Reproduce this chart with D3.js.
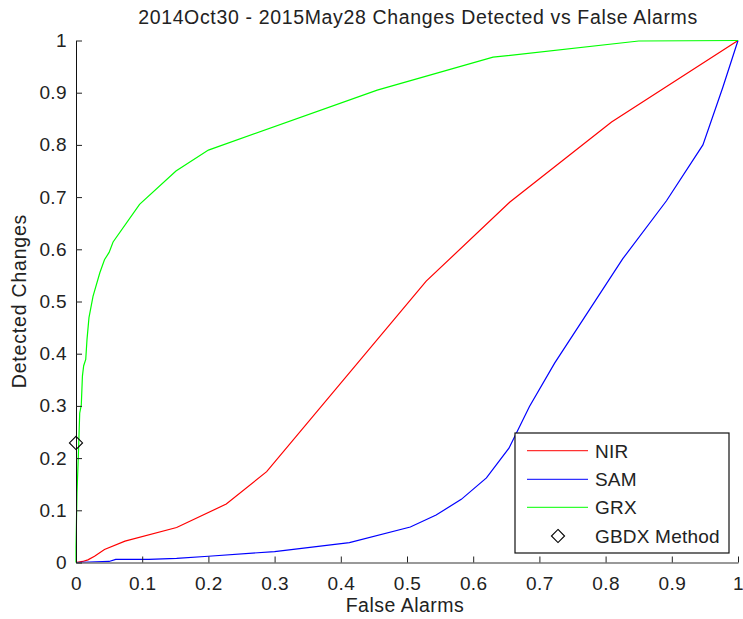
<!DOCTYPE html>
<html><head><meta charset="utf-8">
<script src="https://cdn.jsdelivr.net/npm/d3@7"></script>
<style>body{margin:0;background:#fff}svg{display:block;font-family:Arial,"Liberation Sans",Helvetica,sans-serif}</style>
</head><body><svg id="c" width="743" height="619"></svg>
<script>
const title = "2014Oct30 - 2015May28 Changes Detected vs False Alarms";
const xLabel = "False Alarms";
const yLabel = "Detected Changes";
const tickValues = [0,0.1,0.2,0.3,0.4,0.5,0.6,0.7,0.8,0.9,1];
const tickLabels = ["0","0.1","0.2","0.3","0.4","0.5","0.6","0.7","0.8","0.9","1"];
const seriesNames = ["NIR","SAM","GRX"];
const seriesColors = ["#ff0000","#0000ff","#00ff00"];
const nirData = [[0,0],[0.01,0.002],[0.018,0.005],[0.028,0.012],[0.043,0.025],[0.074,0.041],[0.152,0.067],[0.227,0.112],[0.288,0.174],[0.529,0.539],[0.655,0.69],[0.809,0.844],[1,1]];
const samData = [[0,0],[0.05,0.002],[0.06,0.006],[0.11,0.006],[0.152,0.008],[0.2,0.012],[0.3,0.021],[0.413,0.038],[0.505,0.068],[0.544,0.091],[0.582,0.121],[0.62,0.162],[0.654,0.219],[0.685,0.299],[0.723,0.382],[0.826,0.582],[0.892,0.693],[0.947,0.8],[0.977,0.91],[1,1]];
const grxData = [[0,0],[0,0.03],[0.0015,0.133],[0.0035,0.203],[0.0056,0.286],[0.008,0.302],[0.0097,0.357],[0.0116,0.377],[0.0147,0.389],[0.0166,0.427],[0.0196,0.469],[0.0257,0.51],[0.036,0.555],[0.043,0.58],[0.05,0.594],[0.056,0.614],[0.096,0.686],[0.151,0.75],[0.2,0.79],[0.455,0.905],[0.63,0.968],[0.85,0.999],[1,1]];
const gbdxPoint = [[0,0.229]];
const legendLabels = ["NIR","SAM","GRX","GBDX Method"];

const svg = d3.select("#c");
svg.append("rect").attr("width",743).attr("height",619).attr("fill","#fff");
const x = d3.scaleLinear().domain([0,1]).range([76,738]);
const y = d3.scaleLinear().domain([0,1]).range([562.5,40.5]);

// curves
const line = d3.line().x(d=>x(d[0])).y(d=>y(d[1]));
[nirData,samData,grxData].forEach((d,i)=>{
  svg.append("path").datum(d).attr("d",line).attr("fill","none")
    .attr("stroke",seriesColors[i]).attr("stroke-width",1.2);
});

// axes
const fmt = v => tickLabels[tickValues.indexOf(v)];
const xAxis = d3.axisBottom(x).tickValues(tickValues).tickFormat(fmt).tickSizeInner(-6).tickSizeOuter(0).tickPadding(14);
const yAxis = d3.axisLeft(y).tickValues(tickValues).tickFormat(fmt).tickSizeInner(-6).tickSizeOuter(0).tickPadding(9);
const gx = svg.append("g").attr("transform","translate(0,562.5)").call(xAxis);
const gy = svg.append("g").attr("transform","translate(76,0)").call(yAxis);
[gx,gy].forEach(g=>{
  g.selectAll("text").attr("font-size",19).attr("letter-spacing",0.4).attr("fill","#222").attr("font-family","Arial,'Liberation Sans',sans-serif");
  g.selectAll(".tick line").attr("stroke","#222");
});
gx.select(".domain").attr("stroke","#777").attr("stroke-width",1.5);
gy.select(".domain").attr("stroke","#111");

// marker
const diamond = d3.symbol().type(d3.symbolDiamond2).size(110);
svg.selectAll(".gbdx").data(gbdxPoint).join("path")
  .attr("transform",d=>`translate(${x(d[0])},${y(d[1])})`)
  .attr("d",diamond).attr("fill","none").attr("stroke","#000").attr("stroke-width",1.1);

// titles
svg.append("text").attr("x",418).attr("y",24).attr("text-anchor","middle").attr("font-size",19.5).attr("letter-spacing",0.65).attr("fill","#222").text(title);
svg.append("text").attr("x",405).attr("y",612).attr("text-anchor","middle").attr("font-size",19.5).attr("letter-spacing",0.5).attr("fill","#222").text(xLabel);
svg.append("text").attr("transform","translate(26,301) rotate(-90)").attr("text-anchor","middle").attr("font-size",19.5).attr("letter-spacing",0.8).attr("fill","#222").text(yLabel);

// legend
const lg = svg.append("g");
lg.append("rect").attr("x",515).attr("y",433).attr("width",214).attr("height",120).attr("fill","#fff").attr("stroke","#111").attr("stroke-width",1.2);
const rowY = [450.7,479.3,507.3,536];
legendLabels.forEach((lab,i)=>{
  if(i<3){
    lg.append("line").attr("x1",527).attr("x2",588).attr("y1",rowY[i]).attr("y2",rowY[i]).attr("stroke",seriesColors[i]).attr("stroke-width",1.2).attr("opacity",0.8);
  } else {
    lg.append("path").attr("transform",`translate(558,${rowY[i]})`).attr("d",diamond).attr("fill","none").attr("stroke","#000").attr("stroke-width",1.1);
  }
  lg.append("text").attr("x",595).attr("y",rowY[i]+7).attr("font-size",19).attr("letter-spacing",0.2).attr("fill","#222").text(lab);
});
</script></body></html>
